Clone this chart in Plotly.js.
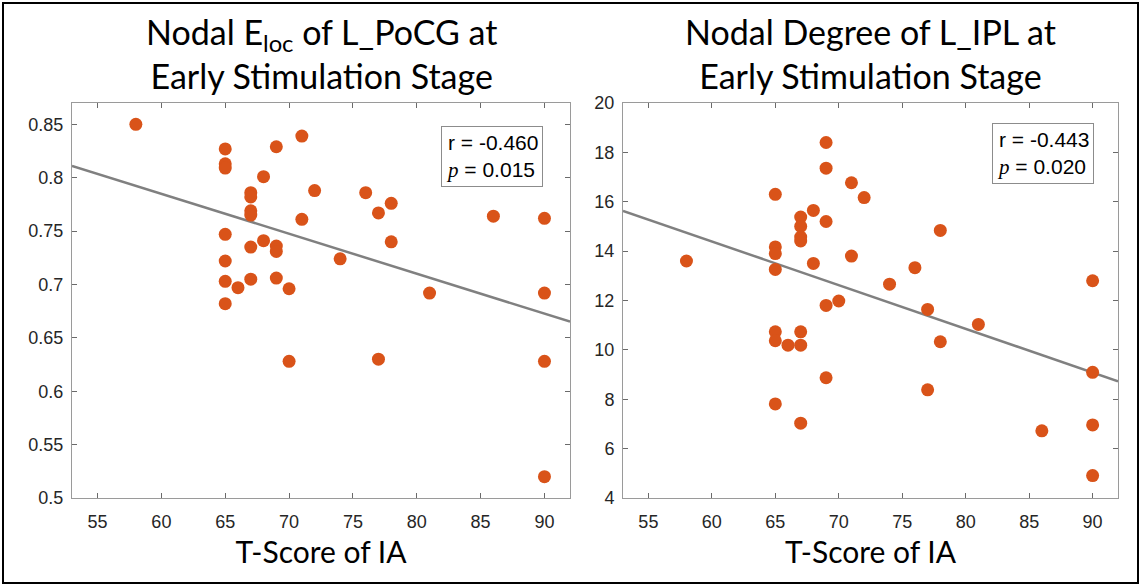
<!DOCTYPE html>
<html>
<head>
<meta charset="utf-8">
<script src="https://cdn.plot.ly/plotly-3.0.1.min.js"></script>
<style>html,body{margin:0;padding:0;background:#fff;}#chart{width:1141px;height:586px;}</style>
</head>
<body>
<div id="chart"></div>
<script>
// T-Score of IA (left panel)
const iaLeft = [58,65,65,65,65,65,65,65,66,67,67,67,67,67,67,68,68,69,69,69,69,70,70,71,71,72,74,76,77,77,78,78,81,86,90,90,90,90];
// Nodal Eloc of L_PoCG
const elocPoCG = [0.850,0.827,0.813,0.809,0.747,0.722,0.703,0.682,0.697,0.786,0.782,0.769,0.765,0.735,0.705,0.801,0.741,0.829,0.736,0.731,0.706,0.696,0.628,0.839,0.761,0.788,0.724,0.786,0.767,0.630,0.776,0.740,0.692,0.764,0.762,0.692,0.628,0.520];
// T-Score of IA (right panel)
const iaRight = [58,65,65,65,65,65,65,65,66,67,67,67,67,67,67,67,68,68,69,69,69,69,69,70,71,71,72,74,76,77,77,78,78,81,86,90,90,90,90];
// Nodal Degree of L_IPL
const degreeIPL = [13.6,16.3,14.17,13.9,13.26,10.73,10.37,7.81,10.19,15.38,15.0,14.57,14.41,10.73,10.19,7.03,15.65,13.5,18.4,17.36,15.2,11.8,8.87,11.98,16.77,13.8,16.17,12.66,13.33,11.64,8.38,14.84,10.33,11.03,6.72,12.8,9.09,6.96,4.91];

const xTicks = [55,60,65,70,75,80,85,90];
const yTicksLeft = [0.5,0.55,0.6,0.65,0.7,0.75,0.8,0.85];
const yTickLabelsLeft = ['0.5','0.55','0.6','0.65','0.7','0.75','0.8','0.85'];
const yTicksRight = [4,6,8,10,12,14,16,18,20];
const stats = [{r:'-0.460', p:'0.015'}, {r:'-0.443', p:'0.020'}];
const titles = ['Nodal E<sub>loc</sub> of L_PoCG at<br>Early Stimulation Stage', 'Nodal Degree of L_IPL at<br>Early Stimulation Stage'];
const xTitle = 'T-Score of IA';
const xRange = [53, 92];

function fit(x, y) {
  const n = x.length;
  const mx = x.reduce((a,b)=>a+b,0)/n, my = y.reduce((a,b)=>a+b,0)/n;
  let sxy = 0, sxx = 0;
  for (let i=0;i<n;i++){ sxy += (x[i]-mx)*(y[i]-my); sxx += (x[i]-mx)*(x[i]-mx); }
  const b = sxy/sxx, a = my - b*mx;
  return {x: xRange.slice(), y: xRange.map(v => a + b*v)};
}
const fL = fit(iaLeft, elocPoCG), fR = fit(iaRight, degreeIPL);

const orange = '#D95319';
const traces = [
  {x: fL.x, y: fL.y, mode:'lines', line:{color:'#808080', width:2.5}, xaxis:'x', yaxis:'y', hoverinfo:'skip'},
  {x: iaLeft, y: elocPoCG, mode:'markers', marker:{color:orange, size:13}, xaxis:'x', yaxis:'y'},
  {x: fR.x, y: fR.y, mode:'lines', line:{color:'#808080', width:2.5}, xaxis:'x2', yaxis:'y2', hoverinfo:'skip'},
  {x: iaRight, y: degreeIPL, mode:'markers', marker:{color:orange, size:13}, xaxis:'x2', yaxis:'y2'}
];

const tickFont = {family:'Liberation Sans, Arial, sans-serif', size:18, color:'#262626'};
const axisCommon = {
  showgrid:false, zeroline:false, showline:true, linecolor:'#9a9a9a', linewidth:1,
  mirror:'ticks', ticks:'inside', ticklen:5, tickcolor:'#6a6a6a', tickwidth:1,
  tickfont: tickFont, fixedrange:true
};
const xTitleObj = {text: xTitle, font:{family:'Lato, sans-serif', size:30, color:'#000'}, standoff:11};

const layout = {
  width:1141, height:586, margin:{l:0,r:0,t:0,b:0},
  paper_bgcolor:'#fff', plot_bgcolor:'#fff', showlegend:false,
  xaxis: Object.assign({}, axisCommon, {domain:[72/1141, 570/1141], range:xRange, tickvals:xTicks, ticklabelstandoff:7, title:xTitleObj, anchor:'y'}),
  yaxis: Object.assign({}, axisCommon, {domain:[88/586, 483/586], range:[0.5,0.87], tickvals:yTicksLeft, ticktext:yTickLabelsLeft, ticklabelstandoff:4, anchor:'x'}),
  xaxis2: Object.assign({}, axisCommon, {domain:[623/1141, 1118/1141], range:xRange, tickvals:xTicks, ticklabelstandoff:7, title:xTitleObj, anchor:'y2'}),
  yaxis2: Object.assign({}, axisCommon, {domain:[88/586, 483/586], range:[4,20], tickvals:yTicksRight, ticklabelstandoff:4, anchor:'x2'}),
  annotations: [
    {xref:'paper', yref:'paper', x:(72+570)/2/1141, y:1-53/586, xanchor:'center', yanchor:'middle', showarrow:false, text:titles[0], font:{family:'Lato, sans-serif', size:34, color:'#000'}},
    {xref:'paper', yref:'paper', x:(623+1118)/2/1141, y:1-53/586, xanchor:'center', yanchor:'middle', showarrow:false, text:titles[1], font:{family:'Lato, sans-serif', size:34, color:'#000'}},
    {xref:'x domain', yref:'y domain', x:0.945, y:0.942, xanchor:'right', yanchor:'top', showarrow:false, align:'left',
     text:'r = '+stats[0].r+'<br><span style="font-family:Liberation Serif, serif"><i>p</i></span> = '+stats[0].p,
     font:{family:'Liberation Sans, Arial, sans-serif', size:21, color:'#000'}, bordercolor:'#8c8c8c', borderwidth:1, borderpad:4, bgcolor:'#fff'},
    {xref:'x2 domain', yref:'y2 domain', x:0.952, y:0.949, xanchor:'right', yanchor:'top', showarrow:false, align:'left',
     text:'r = '+stats[1].r+'<br><span style="font-family:Liberation Serif, serif"><i>p</i></span> = '+stats[1].p,
     font:{family:'Liberation Sans, Arial, sans-serif', size:21, color:'#000'}, bordercolor:'#8c8c8c', borderwidth:1, borderpad:4, bgcolor:'#fff'}
  ],
  shapes: [
    {type:'rect', xref:'paper', yref:'paper', x0:3/1141, x1:1138/1141, y0:3/586, y1:583/586, line:{color:'#000', width:2}, fillcolor:'rgba(0,0,0,0)'}
  ]
};

Plotly.newPlot('chart', traces, layout, {displayModeBar:false, staticPlot:true});
</script>
</body>
</html>
